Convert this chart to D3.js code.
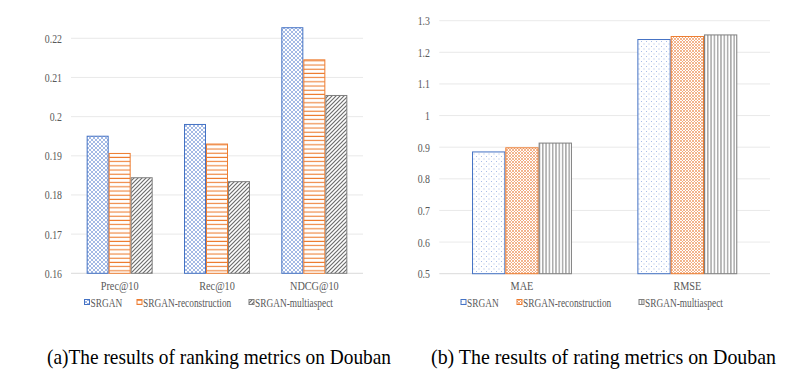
<!DOCTYPE html>
<html>
<head>
<meta charset="utf-8">
<script src="https://cdn.jsdelivr.net/npm/d3@7"></script>
<style>
  body { margin: 0; background: #fff; }
  text { font-family: "Liberation Serif", "Times New Roman", serif; }
</style>
</head>
<body>
<svg id="chart" width="805" height="391"></svg>
<script>
// data
const series = ["SRGAN", "SRGAN-reconstruction", "SRGAN-multiaspect"];

const rankCats = ["Prec@10", "Rec@10", "NDCG@10"];
const rankSRGAN = [0.195, 0.198, 0.2227];
const rankRecon = [0.1906, 0.193, 0.2145];
const rankMulti = [0.1844, 0.1834, 0.2054];
const rankTicks = [0.16, 0.17, 0.18, 0.19, 0.2, 0.21, 0.22];

const rateCats = ["MAE", "RMSE"];
const rateSRGAN = [0.885, 1.2405];
const rateRecon = [0.898, 1.25];
const rateMulti = [0.913, 1.255];
const rateTicks = [0.5, 0.6, 0.7, 0.8, 0.9, 1.0, 1.1, 1.2, 1.3];

const captions = ["(a)The results of ranking metrics on Douban", "(b) The results of rating metrics on Douban"];

const svg = d3.select("#chart");
const defs = svg.append("defs");

const BLUE = "#4472C4", ORANGE = "#ED7D31", GRAY = "#7F7F7F";

// hatch patterns
function pattern(id, w, h, draw) {
  const p = defs.append("pattern").attr("id", id)
    .attr("patternUnits", "userSpaceOnUse").attr("width", w).attr("height", h);
  p.append("rect").attr("width", w).attr("height", h).attr("fill", "#fff");
  draw(p);
}
pattern("blueCross", 4, 4, p => {
  p.append("path").attr("d", "M0,0L4,4M4,0L0,4").attr("stroke", "#9AB2E2").attr("stroke-width", 0.9);
});
pattern("orangeH", 4, 4.2, p => {
  p.append("line").attr("x1", 0).attr("x2", 4).attr("y1", 2).attr("y2", 2)
    .attr("stroke", ORANGE).attr("stroke-width", 1.1);
});
pattern("grayDiag", 4, 4, p => {
  p.append("path").attr("d", "M-1,1L1,-1M0,4L4,0M3,5L5,3").attr("stroke", "#6d6d6d").attr("stroke-width", 1.2);
});
pattern("blueDots", 5, 5, p => {
  p.append("rect").attr("x", 1).attr("y", 1).attr("width", 1).attr("height", 1).attr("fill", "#A9BDE6");
  p.append("rect").attr("x", 3.5).attr("y", 3.5).attr("width", 1).attr("height", 1).attr("fill", "#A9BDE6");
});
pattern("orangeCross", 3, 3, p => {
  p.append("path").attr("d", "M0,0L3,3M3,0L0,3").attr("stroke", "#F0A271").attr("stroke-width", 0.8);
});
pattern("grayVert", 3.3, 4, p => {
  p.append("line").attr("x1", 1.6).attr("x2", 1.6).attr("y1", 0).attr("y2", 4)
    .attr("stroke", "#8a8a8a").attr("stroke-width", 1.1);
});

// condensed text helper
function label(g, x, y, str, size, anchor, sx, color) {
  return g.append("text")
    .attr("transform", `translate(${x},${y}) scale(${sx},1)`)
    .attr("text-anchor", anchor)
    .attr("font-size", size)
    .attr("fill", color || "#595959")
    .text(str);
}

function drawChart(cfg) {
  const g = svg.append("g");
  const y = d3.scaleLinear().domain(cfg.domain).range([cfg.bottom, cfg.top]);
  const x0 = d3.scaleBand().domain(cfg.cats).range([cfg.left, cfg.right]);
  const bw = cfg.barW * series.length;
  const x1 = d3.scaleBand().domain(series)
    .range([(x0.bandwidth() - bw) / 2, (x0.bandwidth() + bw) / 2]);

  // gridlines + tick labels
  g.selectAll(".grid").data(cfg.ticks).enter().append("line")
    .attr("x1", cfg.left).attr("x2", cfg.right)
    .attr("y1", d => y(d)).attr("y2", d => y(d))
    .attr("stroke", (d, i) => i === 0 ? "#d0d0d0" : "#e3e3e3").attr("stroke-width", 0.8);
  cfg.ticks.forEach(t => label(g, cfg.tickX, y(t) + 4.5, cfg.fmt(t), 13.5, "end", 0.73));

  const vals = [cfg.a, cfg.b, cfg.c];
  cfg.cats.forEach((cat, ci) => {
    series.forEach((s, si) => {
      const v = vals[si][ci];
      g.append("rect")
        .attr("x", x0(cat) + x1(s) + 0.5)
        .attr("y", y(v))
        .attr("width", x1.bandwidth() - 1)
        .attr("height", y(cfg.domain[0]) - y(v))
        .attr("fill", `url(#${cfg.pats[si]})`)
        .attr("stroke", cfg.colors[si]).attr("stroke-width", 1);
    });
    label(g, x0(cat) + x0.bandwidth() / 2, cfg.bottom + 16.5, cat, 13.5, "middle", 0.76);
  });

  // legend
  series.forEach((s, si) => {
    const lx = cfg.legendX[si];
    g.append("rect").attr("x", lx).attr("y", cfg.legendY - 7.5).attr("width", 5).attr("height", 5)
      .attr("fill", `url(#${cfg.pats[si]})`).attr("stroke", cfg.colors[si]).attr("stroke-width", 1);
    label(g, lx + 6, cfg.legendY, s, 13, "start", 0.72);
  });
}

drawChart({
  cats: rankCats, a: rankSRGAN, b: rankRecon, c: rankMulti, ticks: rankTicks,
  domain: [0.16, 0.22], top: 38.3, bottom: 273.3, left: 71, right: 363, barW: 22,
  tickX: 62, fmt: d3.format("~g"),
  pats: ["blueCross", "orangeH", "grayDiag"], colors: [BLUE, ORANGE, GRAY],
  legendX: [84.5, 137, 249], legendY: 307
});

drawChart({
  cats: rateCats, a: rateSRGAN, b: rateRecon, c: rateMulti, ticks: rateTicks,
  domain: [0.5, 1.3], top: 20.7, bottom: 273.7, left: 439.3, right: 770, barW: 33.3,
  tickX: 430, fmt: d3.format("~g"),
  pats: ["blueDots", "orangeCross", "grayVert"], colors: [BLUE, ORANGE, GRAY],
  legendX: [461, 517, 639], legendY: 307
});

// captions, horizontally condensed like the source figure
const capX = [47, 431], capSx = [0.88, 0.905];
captions.forEach((c, i) => label(svg, capX[i], 364, c, 22, "start", capSx[i], "#000"));
</script>
</body>
</html>
